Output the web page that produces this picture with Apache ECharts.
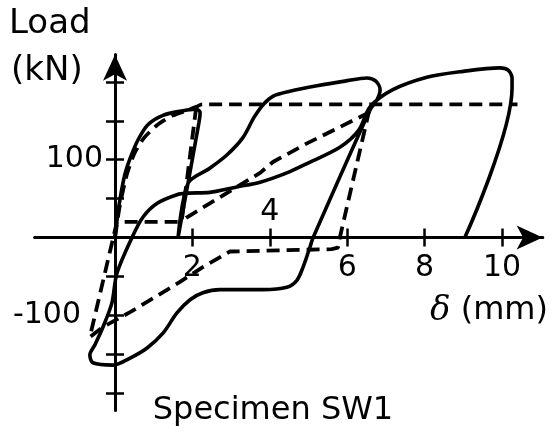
<!DOCTYPE html>
<html>
<head>
<meta charset="utf-8">
<script src="https://cdn.jsdelivr.net/npm/echarts@6/dist/echarts.min.js"></script>
<style>
  html, body { margin: 0; padding: 0; background: #fff; }
  #chart { width: 556px; height: 446px; }
</style>
</head>
<body>
<div id="chart"></div>
<script>
// tick positions and labels
var xTicks = [2, 4, 6, 8, 10];
var xLabelsBelow = [2, 6, 8, 10];
var xLabelsAbove = [4];
var yTicks = [-200, -150, -100, -50, 50, 100, 150, 200];
var yLabels = [100, -100];

// test curve (solid), delta mm / load kN
var testCurve = [
  [0, 0], [0.1, 40], [0.25, 80], [0.4, 103], [0.6, 126], [0.85, 145], [1.24, 157],
  [1.76, 163], [2.07, 165], [2.2, 161], [2.17, 148],
  [1.63, 0], [1.89, 70],
  [2.45, 89], [2.89, 106], [3.3, 128], [3.6, 155], [3.85, 172], [4.1, 182], [4.52, 188],
  [5.22, 195], [5.94, 201], [6.51, 205], [6.74, 201], [6.85, 190], [6.77, 177], [6.59, 164],
  [5.12, 0], [5.04, -12], [4.86, -38], [4.7, -55], [4.44, -64], [3.82, -67], [2.71, -67],
  [2.27, -71], [1.94, -80], [1.6, -97], [1.24, -123], [0.83, -142], [0.39, -155],
  [-0.05, -164], [-0.57, -161], [-0.65, -151],
  [-0.52, -138], [-0.31, -115], [-0.08, -84], [0.05, -46], [0.44, 0], [0.72, 26],
  [1.09, 44], [1.6, 55], [1.86, 57], [2.45, 58], [3.15, 65], [3.75, 71], [4.44, 83],
  [4.96, 95], [5.81, 116], [6.3, 138], [6.59, 168],
  [7.18, 190], [8.06, 206], [8.91, 213], [9.95, 218], [10.16, 215], [10.26, 205],
  [10.26, 192], [9.04, 0]
];

// model (dashed)
var modelEnvelope = [
  [0, 0], [0.12, 40], [0.3, 80], [0.5, 108], [0.75, 128], [1.1, 145], [1.5, 157],
  [1.9, 164], [2.1, 168], [2.25, 171], [10.4, 171]
];
var modelCycle = [
  [2.1, 168], [1.72, 20], [0.05, 20], [-0.65, -128], [-0.31, -115], [0.39, -96],
  [1.68, -57], [2.27, -38], [2.97, -18], [5.6, -15], [5.76, -13], [5.81, 0], [6.59, 168],
  [6.54, 160], [5.81, 142], [4.96, 121], [4.08, 97], [3.75, 83], [3.15, 65], [2.45, 44],
  [1.86, 26], [1.72, 20]
];

var chart = echarts.init(document.getElementById('chart'));
var font = '"DejaVu Sans"';
var black = '#000';

// plot box: x 0 at 115px (38.7 px/mm), y 0 at 237.5px (0.778 px/kN)
var xMin = -2.07, xMax = 11.05, yMin = -222, yMax = 235;
var gLeft = 115 + xMin * 38.7;
var gRight = 115 + xMax * 38.7;
var gTop = 237.5 - yMax * 0.778;
var gBottom = 237.5 - yMin * 0.778;

var option = {
  animation: false,
  backgroundColor: '#fff',
  grid: { left: gLeft, top: gTop, width: gRight - gLeft, height: gBottom - gTop, outerBoundsMode: 'none', containLabel: false },
  xAxis: [
    {
      type: 'value', min: xMin, max: xMax, position: 'bottom', offset: -(gBottom - 237.5),
      axisLine: { onZero: false, symbol: ['none', 'arrow'], symbolSize: [18, 26],
        lineStyle: { color: black, width: 3 } },
      axisTick: { customValues: xTicks, length: 9, lineStyle: { color: black, width: 2.5 } },
      axisLabel: { customValues: xLabelsBelow, margin: 16, color: black, fontSize: 30, fontFamily: font },
      splitLine: { show: false }
    },
    {
      type: 'value', min: xMin, max: xMax, position: 'top', offset: -(237.5 - gTop),
      axisLine: { onZero: false, lineStyle: { color: black, width: 3 } },
      axisTick: { customValues: xTicks, length: 9, lineStyle: { color: black, width: 2.5 } },
      axisLabel: { customValues: xLabelsAbove, margin: 10, color: black, fontSize: 30, fontFamily: font },
      splitLine: { show: false }
    }
  ],
  yAxis: [
    {
      type: 'value', min: yMin, max: yMax, position: 'left', offset: -(115 - gLeft),
      axisLine: { onZero: false, symbol: ['none', 'arrow'], symbolSize: [18, 26],
        lineStyle: { color: black, width: 3 } },
      axisTick: { customValues: yTicks, length: 9, lineStyle: { color: black, width: 2.5 } },
      axisLabel: {
        customValues: yLabels, margin: 12, color: black, fontSize: 30, fontFamily: font,
        formatter: function (v) { return v < 0 ? '{neg|' + v + '}' : String(v); },
        rich: { neg: { fontSize: 30, fontFamily: font, color: black, padding: [0, 22, 0, 0] } }
      },
      splitLine: { show: false }
    },
    {
      type: 'value', min: yMin, max: yMax, position: 'right', offset: -(gRight - 115),
      axisLine: { onZero: false, lineStyle: { color: black, width: 3 } },
      axisTick: { customValues: yTicks, length: 9, lineStyle: { color: black, width: 2.5 } },
      axisLabel: { show: false },
      splitLine: { show: false }
    }
  ],
  series: [
    {
      name: 'Test', type: 'line', data: testCurve, showSymbol: false, smooth: 0.3,
      lineStyle: { color: black, width: 3.6 }
    },
    {
      name: 'Model envelope', type: 'line', data: modelEnvelope, showSymbol: false, smooth: 0.2,
      lineStyle: { color: black, width: 3.8, type: [13, 7] }
    },
    {
      name: 'Model cycle', type: 'line', data: modelCycle, showSymbol: false,
      lineStyle: { color: black, width: 3.8, type: [13, 7] }
    }
  ],
  graphic: [
    { type: 'text', x: 9, y: 24, style: { text: 'Load', font: '34px ' + font, fill: black, align: 'left', verticalAlign: 'middle' } },
    { type: 'text', x: 11, y: 71, style: { text: '(kN)', font: '34px ' + font, fill: black, align: 'left', verticalAlign: 'middle' } },
    { type: 'text', x: 430, y: 311, style: {
        text: '{d|δ} (mm)', font: '32px ' + font, fill: black, align: 'left', verticalAlign: 'middle',
        rich: { d: { fontStyle: 'italic', fontFamily: '"DejaVu Serif"', fontSize: 34 } } } },
    { type: 'text', x: 273, y: 411, style: { text: 'Specimen SW1', font: '32px ' + font, fill: black, align: 'center', verticalAlign: 'middle' } }
  ]
};

chart.setOption(option);
</script>
</body>
</html>
